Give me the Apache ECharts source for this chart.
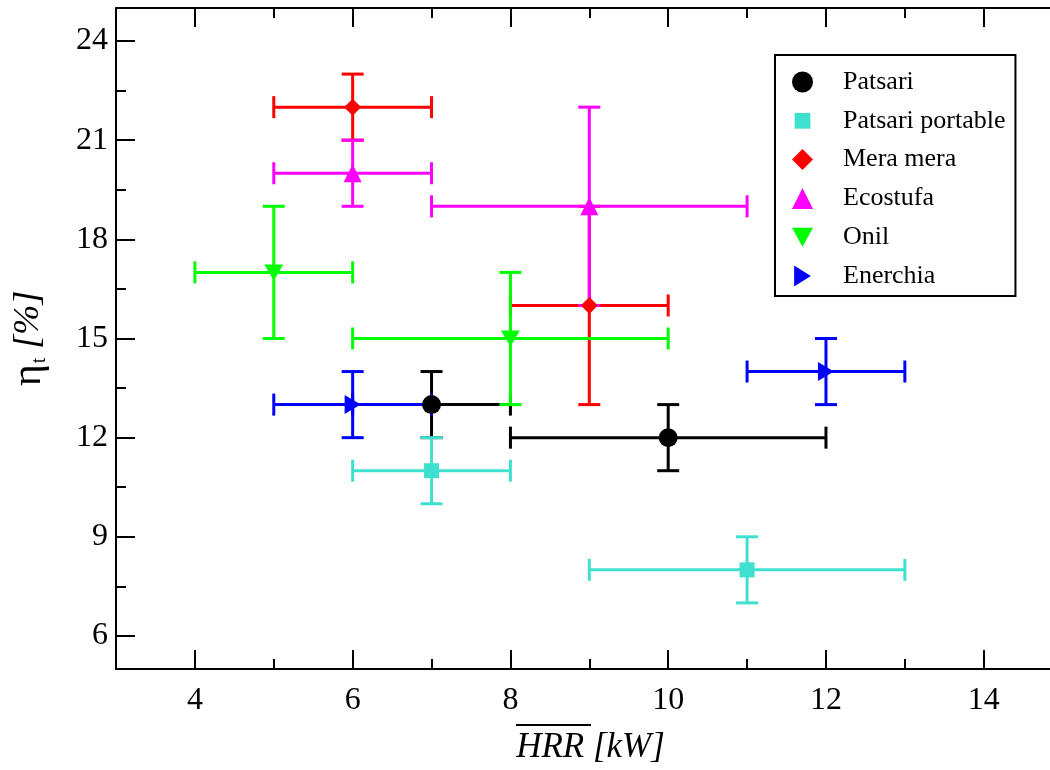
<!DOCTYPE html>
<html><head><meta charset="utf-8">
<script src="https://cdn.jsdelivr.net/npm/echarts@6/dist/echarts.min.js"></script>
<style>html,body{margin:0;padding:0;background:#fff}#c{width:1050px;height:770px}</style>
</head><body><div id="c"></div>
<script>
// ---- data ----
const seriesNames = ['Patsari', 'Patsari portable', 'Mera mera', 'Ecostufa', 'Onil', 'Enerchia'];
const seriesColors = ['#000000', '#40E0D0', '#FF0000', '#FF00FF', '#00FF00', '#0000FF'];
// each point: [HRR, eta, HRR low, HRR high, eta low, eta high]
const patsari = [[7, 13, 6, 8, 12, 14], [10, 12, 8, 12, 11, 13]];
const patsariPortable = [[7, 11, 6, 8, 10, 12], [11, 8, 9, 13, 7, 9]];
const meraMera = [[6, 22, 5, 7, 21, 23], [9, 16, 8, 10, 13, 19]];
const ecostufa = [[6, 20, 5, 7, 19, 21], [9, 19, 7, 11, 16, 22]];
const onil = [[5, 17, 4, 6, 15, 19], [8, 15, 6, 10, 13, 17]];
const enerchia = [[6, 13, 5, 7, 12, 14], [12, 14, 11, 13, 13, 15]];
const xMajorTicks = [4, 6, 8, 10, 12, 14];
const xMinorTicks = [5, 7, 9, 11, 13];
const yMajorTicks = [6, 9, 12, 15, 18, 21, 24];
const yMinorTicks = [7.5, 10.5, 13.5, 16.5, 19.5, 22.5];
const xRange = [3, 14.84];
const yRange = [5, 25];

const allData = [patsari, patsariPortable, meraMera, ecostufa, onil, enerchia];
const symbols = ['circle', 'rect', 'diamond', 'triangle', 'path://M0,0L10,0L5,9Z', 'path://M0,0L9,5L0,10Z'];
const symbolSizes = [19, 15, 17, 18, [19, 16], [16, 19]];
const legendIcons = ['circle', 'path://M0,0M20,20M2.5,2.5L17.5,2.5L17.5,17.5L2.5,17.5Z', 'diamond', 'triangle',
  'path://M0,0L10,0L5,9Z', 'path://M0,0M10,10M1,0L9,5L1,10Z'];

const FONT = 'Liberation Serif';
const black = '#000';

function errRender(params, api) {
  const x = api.value(0), y = api.value(1);
  const xl = api.coord([api.value(2), y]), xh = api.coord([api.value(3), y]);
  const yl = api.coord([x, api.value(4)]), yh = api.coord([x, api.value(5)]);
  const c = 11;
  const style = { stroke: api.visual('color'), lineWidth: 3, fill: null };
  const ln = (x1, y1, x2, y2) => ({ type: 'line', shape: { x1, y1, x2, y2 }, style });
  return {
    type: 'group', children: [
      ln(xl[0], xl[1], xh[0], xh[1]),
      ln(yl[0], yl[1], yh[0], yh[1]),
      ln(xl[0], xl[1] - c, xl[0], xl[1] + c),
      ln(xh[0], xh[1] - c, xh[0], xh[1] + c),
      ln(yl[0] - c, yl[1], yl[0] + c, yl[1]),
      ln(yh[0] - c, yh[1], yh[0] + c, yh[1])
    ]
  };
}

const series = [];
allData.forEach((d, i) => {
  series.push({
    name: seriesNames[i] + ' err', type: 'custom', renderItem: errRender,
    data: d, encode: { x: 0, y: 1 }, itemStyle: { color: seriesColors[i] }, z: 2, silent: true
  });
});
allData.forEach((d, i) => {
  series.push({
    name: seriesNames[i], type: 'scatter', symbol: symbols[i], symbolSize: symbolSizes[i],
    data: d.map(p => [p[0], p[1]]), itemStyle: { color: seriesColors[i], opacity: 1 }, z: 3
  });
});

function xAx(pos, ticks, len, showLine, showLabel, extra) {
  return Object.assign({
    type: 'value', position: pos, min: xRange[0], max: xRange[1], gridIndex: 0,
    axisLine: { show: showLine, onZero: false, lineStyle: { color: black, width: 2 } },
    axisTick: { show: true, inside: true, length: len, customValues: ticks, lineStyle: { color: black, width: 2 } },
    axisLabel: { show: showLabel, customValues: ticks, color: black, fontFamily: FONT, fontSize: 32, margin: 16 },
    splitLine: { show: false }
  }, extra || {});
}
function yAx(pos, ticks, len, showLine, showLabel, extra) {
  return Object.assign({
    type: 'value', position: pos, min: yRange[0], max: yRange[1], gridIndex: 0,
    axisLine: { show: showLine, onZero: false, lineStyle: { color: black, width: 2 } },
    axisTick: { show: true, inside: true, length: len, customValues: ticks, lineStyle: { color: black, width: 2 } },
    axisLabel: { show: showLabel, customValues: ticks, color: black, fontFamily: FONT, fontSize: 32, margin: 8, padding: [9, 0, 0, 0] },
    splitLine: { show: false }
  }, extra || {});
}

const option = {
  backgroundColor: '#fff',
  animation: false,
  grid: { left: 115, top: 8, right: 0, height: 661, containLabel: false },
  xAxis: [
    xAx('bottom', xMajorTicks, 19, true, true, {
      name: '{i|HRR [kW]}', nameLocation: 'middle', nameGap: 61,
      nameTextStyle: { rich: { i: { fontFamily: FONT, fontSize: 35, fontStyle: 'italic', color: black, padding: [0, 0, 0, 15] } } }
    }),
    xAx('bottom', xMinorTicks, 10, false, false),
    xAx('top', xMajorTicks, 19, true, false),
    xAx('top', xMinorTicks, 10, false, false)
  ],
  yAxis: [
    yAx('left', yMajorTicks, 19, true, true, {
      name: '{g|η}{s|t}{i| [%]}', nameLocation: 'middle', nameRotate: 90, nameGap: 66,
      nameTextStyle: {
        rich: {
          g: { fontFamily: FONT, fontSize: 42, color: black },
          s: { fontFamily: FONT, fontSize: 20, color: black, padding: [22, 0, 0, 1] },
          i: { fontFamily: FONT, fontSize: 36, fontStyle: 'italic', color: black }
        }
      }
    }),
    yAx('left', yMinorTicks, 10, false, false)
  ],
  legend: {
    data: seriesNames.map((n, i) => ({ name: n, icon: legendIcons[i] })),
    orient: 'vertical', left: 775, top: 55,
    borderColor: black, borderWidth: 2, borderRadius: 0, backgroundColor: '#fff',
    padding: [14, 10, 7, 17], itemWidth: 21, itemHeight: 21, itemGap: 12.8,
    selectedMode: false,
    textStyle: { fontFamily: FONT, fontSize: 26, color: black, padding: [0, 0, 0, 25], lineHeight: 26 }
  },
  graphic: [{
    type: 'line', shape: { x1: 516, y1: 725, x2: 591, y2: 725 },
    style: { stroke: black, lineWidth: 2 }, z: 10
  }],
  series: series
};

const chart = echarts.init(document.getElementById('c'), null, { renderer: 'canvas' });
chart.setOption(option);
</script>
</body></html>
